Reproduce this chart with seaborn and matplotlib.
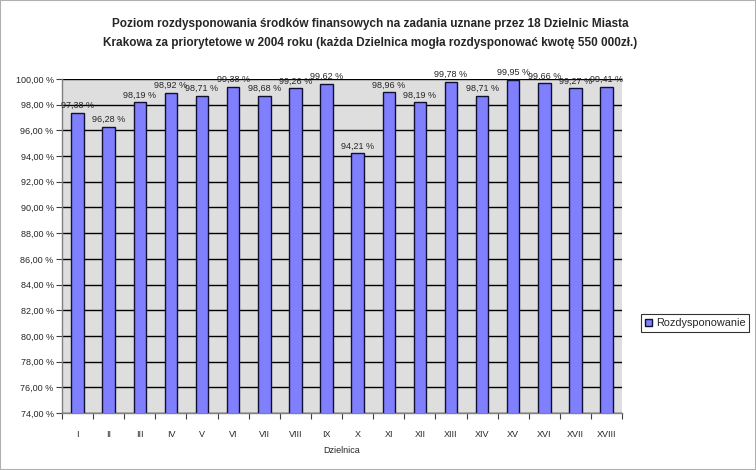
import matplotlib
matplotlib.use("Agg")
import matplotlib.pyplot as plt
import seaborn as sns
import pandas as pd
import numpy as np
from matplotlib.ticker import FuncFormatter, FixedLocator

districts = ["I", "II", "III", "IV", "V", "VI", "VII", "VIII", "IX", "X",
             "XI", "XII", "XIII", "XIV", "XV", "XVI", "XVII", "XVIII"]
values = [97.38, 96.28, 98.19, 98.92, 98.71, 99.38, 98.68, 99.26, 99.62, 94.21,
          98.96, 98.19, 99.78, 98.71, 99.95, 99.66, 99.27, 99.41]
series_name = "Rozdysponowanie"
title = ("Poziom rozdysponowania środków finansowych na zadania uznane przez 18 Dzielnic Miasta\n"
         "Krakowa za priorytetowe w 2004 roku (każda Dzielnica mogła rozdysponować kwotę 550 000zł.)")

df = pd.DataFrame({"Dzielnica": districts, "Wartość": values, "Seria": series_name})

sns.set_theme(style="white")
plt.rcParams['font.family'] = ['Liberation Sans', 'DejaVu Sans']

fig = plt.figure(figsize=(7.56, 4.70), dpi=100)
fig.patch.set_facecolor("white")
ax = fig.add_axes([0.082, 0.121, 0.741, 0.711])
ax.set_facecolor("#dedede")

sns.barplot(data=df, x="Dzielnica", y="Wartość", hue="Seria", palette=["#8080ff"],
            saturation=1, width=0.4, edgecolor="#101030", linewidth=1.0, ax=ax,
            legend=True, zorder=3)

ax.set_ylim(74, 100)
ax.set_yticks(np.arange(74, 100.01, 2))
ax.yaxis.set_major_formatter(FuncFormatter(lambda v, p: f"{v:.2f}".replace(".", ",") + " %"))
ax.yaxis.grid(True, color="black", linewidth=1.0, zorder=0)
ax.set_axisbelow(True)
ax.set_xlim(-0.5, len(districts) - 0.5)

for sp in ["top", "right"]:
    ax.spines[sp].set_visible(False)
ax.spines["left"].set_color("#808080")
ax.spines["bottom"].set_color("#808080")
ax.spines["left"].set_linewidth(1.0)
ax.spines["bottom"].set_linewidth(1.0)

ax.tick_params(axis="y", which="major", length=4, width=0.8, color="#404040",
               labelsize=6.5, pad=2, left=True)
ax.tick_params(axis="x", which="major", length=0, labelsize=6.5, pad=12)
ax.xaxis.set_minor_locator(FixedLocator(np.arange(-0.5, len(districts), 1.0)))
ax.tick_params(axis="x", which="minor", length=4, width=0.8, color="#404040", bottom=True)

for cont in ax.containers:
    ax.bar_label(cont, labels=[f"{v:.2f}".replace(".", ",") + " %" for v in values],
                 fontsize=6.5, padding=2)

ax.set_xlabel("Dzielnica", fontsize=6.5, labelpad=5)
ax.set_ylabel("")

leg = ax.legend(loc="center left", bbox_to_anchor=(1.034, 0.27), fontsize=7.8,
                frameon=True, fancybox=False, edgecolor="black", handlelength=0.6,
                handleheight=0.6, handletextpad=0.4, borderpad=0.35, borderaxespad=0)
leg.get_frame().set_linewidth(0.8)

fig.suptitle(title, fontsize=8.5, fontweight="bold", x=0.49, y=0.962, linespacing=1.75)

# figure border
fig.add_artist(plt.Rectangle((0, 0), 1, 1, transform=fig.transFigure, fill=False,
                             edgecolor="#b0b0b0", linewidth=1.5))

fig.savefig("out.png", dpi=100)
